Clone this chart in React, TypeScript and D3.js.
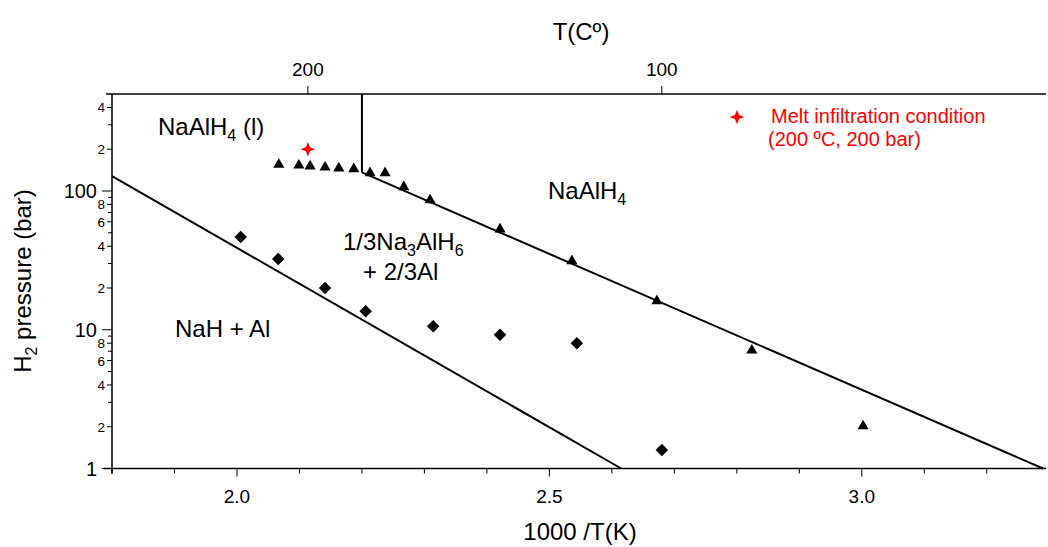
import React from 'react';
import * as d3 from 'd3';

// ---- data ----
const triangleX = [2.067, 2.099, 2.117, 2.141, 2.163, 2.187, 2.213, 2.237, 2.267, 2.309, 2.421, 2.536, 2.672, 2.824, 3.002];
const triangleP = [155, 153, 151, 148, 146, 144, 135, 135, 107, 86, 53, 31.3, 16.1, 7.1, 2.02];

const diamondX = [2.006, 2.066, 2.141, 2.206, 2.314, 2.421, 2.544, 2.680];
const diamondP = [46.6, 32.4, 20.0, 13.6, 10.6, 9.2, 8.0, 1.36];

const lineNaAlH4X = [2.2, 3.29];
const lineNaAlH4P = [136, 1];
const lineNa3AlH6X = [1.8, 2.615];
const lineNa3AlH6P = [128, 1];
const meltLineX = [2.2, 2.2];
const meltLineP = [500, 136];

const meltTempC = 200;
const meltP = 200;

const xTicks = [1.8, 1.9, 2.0, 2.1, 2.2, 2.3, 2.4, 2.5, 2.6, 2.7, 2.8, 2.9, 3.0, 3.1, 3.2];
const xLabeled = [2.0, 2.5, 3.0];
const topTicksC = [200, 100];
const yMajor = [1, 10, 100];
const yMinorLabeled = [2, 4, 6, 8, 20, 40, 60, 80, 200, 400];
const yMinorUnlabeled = [3, 5, 7, 9, 30, 50, 70, 90, 300];

const FONT = 'Arial, "Liberation Sans", sans-serif';

const W = 1048, H = 547;
const L = 112, R = 1043, T = 94, B = 468.5;

const star4 = {
  draw(ctx: any, size: number) {
    const r = Math.sqrt(size) / 2;
    const ri = r * 0.4;
    for (let i = 0; i < 8; i++) {
      const a = (Math.PI / 4) * i - Math.PI / 2;
      const rr = i % 2 === 0 ? r : ri;
      const x = rr * Math.cos(a), y = rr * Math.sin(a);
      if (i === 0) ctx.moveTo(x, y); else ctx.lineTo(x, y);
    }
    ctx.closePath();
  },
};

export default function App() {
  const x = d3.scaleLinear().domain([1.8, 3.29]).range([L, R]);
  const y = d3.scaleLog().domain([1, 500]).range([B, T]);

  const line = d3.line<[number, number]>().x(d => x(d[0])).y(d => y(d[1]));
  const pairs = (xs: number[], ps: number[]) => xs.map((v, i) => [v, ps[i]] as [number, number]);

  const tri = d3.symbol().type(d3.symbolTriangle).size(54)() as string;
  const dia = d3.symbol().type(d3.symbolSquare).size(78)() as string;
  const star = d3.symbol().type(star4 as any).size(210)() as string;

  const fmtX = (v: number) => v.toFixed(1);
  const minorLabel = (v: number) => String(Math.round(v / Math.pow(10, Math.floor(Math.log10(v) + 1e-9))));

  return (
    <svg width={W} height={H} style={{ position: 'absolute', left: 0, top: 0, background: '#fff' }} fontFamily={FONT}>
      <rect x={0} y={0} width={W} height={H} fill="#fff" />

      {/* axes lines */}
      <line x1={103} x2={1046} y1={B} y2={B} stroke="#000" strokeWidth={1.5} />
      <line x1={L} x2={L} y1={T} y2={B + 5} stroke="#000" strokeWidth={1.5} />
      <line x1={106} x2={1046} y1={T} y2={T} stroke="#000" strokeWidth={1.5} />

      {/* bottom ticks */}
      {xTicks.map(t => {
        const major = xLabeled.some(v => Math.abs(v - t) < 1e-6);
        return (
          <g key={'xt' + t}>
            <line x1={x(t)} x2={x(t)} y1={B} y2={B + (major ? 8 : 5)} stroke="#000" strokeWidth={1} />
            {major && (
              <text x={x(t)} y={503} textAnchor="middle" fontSize={19}>{fmtX(t)}</text>
            )}
          </g>
        );
      })}
      <text x={580} y={540} textAnchor="middle" fontSize={24}>1000 /T(K)</text>

      {/* top ticks */}
      {topTicksC.map(c => {
        const px = x(1000 / (c + 273.15));
        return (
          <g key={'tt' + c}>
            <line x1={px} x2={px} y1={T} y2={T - 8} stroke="#000" strokeWidth={1} />
            <text x={px} y={76} textAnchor="middle" fontSize={19}>{c}</text>
          </g>
        );
      })}
      <text x={581} y={40} textAnchor="middle" fontSize={24}>T(Cº)</text>

      {/* left ticks */}
      {yMajor.map(v => (
        <g key={'ym' + v}>
          <line x1={L - 10} x2={L} y1={y(v)} y2={y(v)} stroke="#000" strokeWidth={1} />
          <text x={97} y={y(v) + 7} textAnchor="end" fontSize={20}>{v}</text>
        </g>
      ))}
      {yMinorLabeled.map(v => (
        <g key={'yl' + v}>
          <line x1={L - 5} x2={L} y1={y(v)} y2={y(v)} stroke="#000" strokeWidth={1} />
          <text x={105} y={y(v) + 5} textAnchor="end" fontSize={13.5}>{minorLabel(v)}</text>
        </g>
      ))}
      {yMinorUnlabeled.map(v => (
        <line key={'yu' + v} x1={L - 4} x2={L} y1={y(v)} y2={y(v)} stroke="#000" strokeWidth={1} />
      ))}
      <text transform="translate(31,281) rotate(-90)" textAnchor="middle" fontSize={24}>
        H<tspan fontSize={16} dy={6}>2</tspan><tspan dy={-6}> pressure (bar)</tspan>
      </text>

      {/* boundary lines */}
      <path d={line(pairs(lineNaAlH4X, lineNaAlH4P)) || ''} fill="none" stroke="#000" strokeWidth={2} />
      <path d={line(pairs(lineNa3AlH6X, lineNa3AlH6P)) || ''} fill="none" stroke="#000" strokeWidth={2} />
      <path d={line(pairs(meltLineX, meltLineP)) || ''} fill="none" stroke="#000" strokeWidth={2} />

      {/* markers */}
      {triangleX.map((v, i) => (
        <path key={'tr' + i} d={tri} transform={`translate(${x(v)},${y(triangleP[i])})`} fill="#000" />
      ))}
      {diamondX.map((v, i) => (
        <path key={'di' + i} d={dia} transform={`translate(${x(v)},${y(diamondP[i])}) rotate(45)`} fill="#000" />
      ))}
      <path d={star} transform={`translate(${x(1000 / (meltTempC + 273.15))},${y(meltP)})`} fill="#ff0000" />

      {/* legend */}
      <path d={star} transform="translate(737,117)" fill="#ff0000" />
      <text x={771} y={123} fontSize={20} fill="#ff0000">Melt infiltration condition</text>
      <text x={768} y={146} fontSize={20} fill="#ff0000">(200 ºC, 200 bar)</text>

      {/* phase labels */}
      <text x={158} y={135} fontSize={24}>NaAlH<tspan fontSize={16} dy={6}>4</tspan><tspan dy={-6}> (l)</tspan></text>
      <text x={548} y={199} fontSize={24}>NaAlH<tspan fontSize={16} dy={6}>4</tspan></text>
      <text x={343} y={250} fontSize={24}>1/3Na<tspan fontSize={16} dy={6}>3</tspan><tspan dy={-6}>AlH</tspan><tspan fontSize={16} dy={6}>6</tspan></text>
      <text x={363} y={280} fontSize={24}>+ 2/3Al</text>
      <text x={175} y={337} fontSize={24}>NaH + Al</text>
    </svg>
  );
}
